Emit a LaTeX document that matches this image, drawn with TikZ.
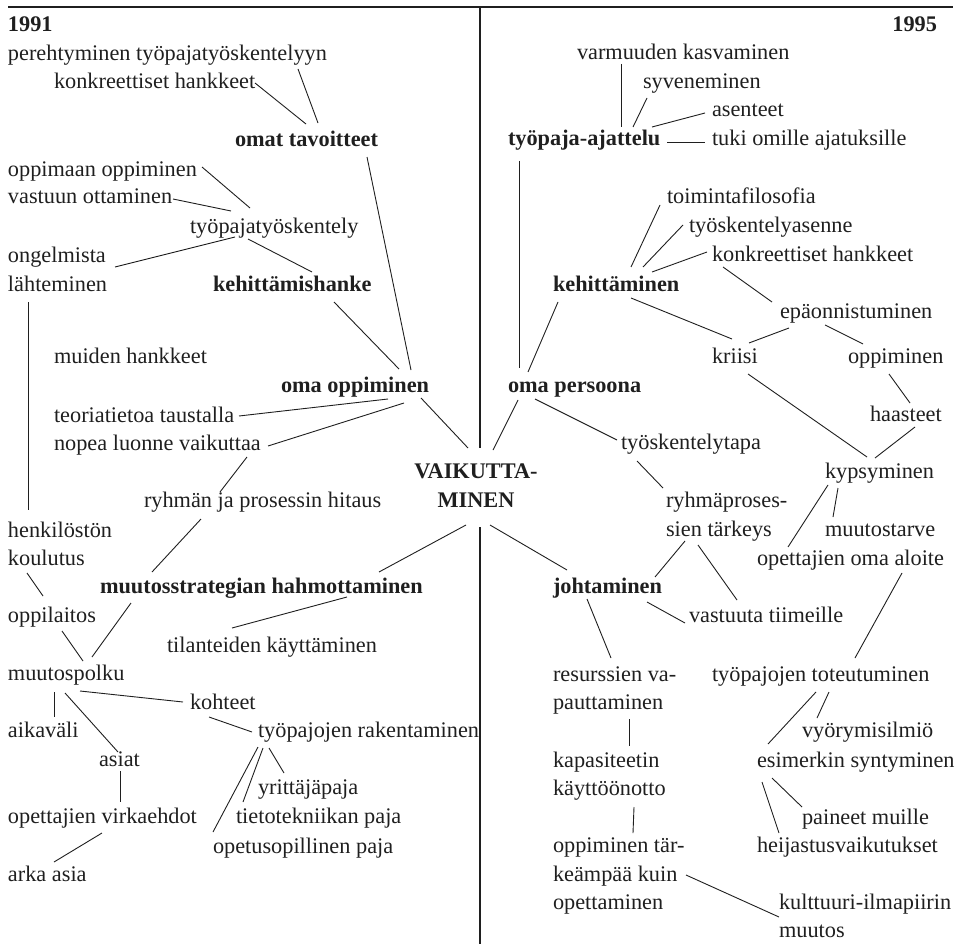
\documentclass[tikz,border=0pt]{standalone}
\usepackage{fontspec}
\setmainfont{Liberation Serif}
\definecolor{ink}{gray}{0.12}
\newcommand\labelsize{\fontsize{22.3}{28}\selectfont}
\tikzset{
  lbl/.style={inner sep=0pt, outer sep=0pt, anchor=base west, text=ink, font=\labelsize},
  key/.style={lbl, font=\labelsize\bfseries},
  conn/.style={draw=ink, line width=0.9pt},
  frame/.style={draw=ink, line width=1.2pt}
}
\begin{document}
\begin{tikzpicture}[x=1pt,y=-1pt]
\useasboundingbox (0,0) rectangle (960,944);

% frame: top rule and the divider between the two years
\coordinate (tl) at (8,7);
\coordinate (tr) at (953,7);
\coordinate (vtop) at (480,7);
\coordinate (vgapa) at (480,448);
\coordinate (vgapb) at (480,527);
\coordinate (vbot) at (480,944);
\draw[frame] (tl) -- (tr);
\draw[frame] (vtop) -- (vgapa);
\draw[frame] (vgapb) -- (vbot);

% centre
\node[key, anchor=base] (vaika) at (476,478) {VAIKUTTA-};
\node[key, anchor=base] (vaikb) at (476,507) {MINEN};

% ---------- 1991 ----------
\node[key] (y91) at (8,32) {1991};
\node[lbl] (pere) at (8,61) {perehtyminen työpajatyöskentelyyn};
\node[lbl] (konkL) at (54,89) {konkreettiset hankkeet};
\node[key] (omat) at (235,147) {omat tavoitteet};
\node[lbl] (oppimaan) at (8,176) {oppimaan oppiminen};
\node[lbl] (vastuun) at (8,204) {vastuun ottaminen};
\node[lbl] (typt) at (190,233) {työpajatyöskentely};
\node[lbl] (ongel) at (8,262) {ongelmista};
\node[lbl] (lahte) at (8,291) {lähteminen};
\node[key] (kehhanke) at (213,291) {kehittämishanke};
\node[lbl] (muiden) at (54,363) {muiden hankkeet};
\node[key] (omaopp) at (281,392) {oma oppiminen};
\node[lbl] (teoria) at (54,422) {teoriatietoa taustalla};
\node[lbl] (nopea) at (54,450) {nopea luonne vaikuttaa};
\node[lbl] (ryhman) at (144,507) {ryhmän ja prosessin hitaus};
\node[lbl] (henk) at (8,537) {henkilöstön};
\node[lbl] (koul) at (8,565) {koulutus};
\node[key] (muutosstr) at (100,593) {muutosstrategian hahmottaminen};
\node[lbl] (oppil) at (8,622) {oppilaitos};
\node[lbl] (tilant) at (167,652) {tilanteiden käyttäminen};
\node[lbl] (mpolku) at (8,680) {muutospolku};
\node[lbl] (kohteet) at (190,709) {kohteet};
\node[lbl] (aikav) at (8,737) {aikaväli};
\node[lbl] (typrak) at (258,737) {työpajojen rakentaminen};
\node[lbl] (asiat) at (99,766) {asiat};
\node[lbl] (yritt) at (258,794) {yrittäjäpaja};
\node[lbl] (opvirka) at (8,823) {opettajien virkaehdot};
\node[lbl] (tietot) at (236,823) {tietotekniikan paja};
\node[lbl] (opetusop) at (213,853) {opetusopillinen paja};
\node[lbl] (arka) at (8,881) {arka asia};

% ---------- 1995 ----------
\node[key, anchor=base east] (y95) at (937,32) {1995};
\node[lbl] (varm) at (577,60) {varmuuden kasvaminen};
\node[lbl] (syven) at (643,89) {syveneminen};
\node[lbl] (asent) at (712,117) {asenteet};
\node[key] (typaja) at (508,146) {työpaja-ajattelu};
\node[lbl] (tuki) at (712,146) {tuki omille ajatuksille};
\node[lbl] (toimin) at (667,203) {toimintafilosofia};
\node[lbl] (tyosk) at (689,232) {työskentelyasenne};
\node[lbl] (konkR) at (712,261) {konkreettiset hankkeet};
\node[key] (kehit) at (553,291) {kehittäminen};
\node[lbl] (epaon) at (780,318) {epäonnistuminen};
\node[lbl] (kriisi) at (712,363) {kriisi};
\node[lbl] (oppR) at (848,363) {oppiminen};
\node[key] (omapers) at (508,392) {oma persoona};
\node[lbl] (haast) at (870,421) {haasteet};
\node[lbl] (tyotapa) at (621,449) {työskentelytapa};
\node[lbl] (kyps) at (825,478) {kypsyminen};
\node[lbl] (ryhmaa) at (666,507) {ryhmäproses-};
\node[lbl] (ryhmab) at (666,536) {sien tärkeys};
\node[lbl] (muutost) at (825,536) {muutostarve};
\node[lbl] (opaloite) at (757,565) {opettajien oma aloite};
\node[key] (johtam) at (553,593) {johtaminen};
\node[lbl] (vastuuta) at (689,622) {vastuuta tiimeille};
\node[lbl] (resursa) at (553,681) {resurssien va-};
\node[lbl] (resursb) at (553,709) {pauttaminen};
\node[lbl] (totout) at (712,681) {työpajojen toteutuminen};
\node[lbl] (vyory) at (802,737) {vyörymisilmiö};
\node[lbl] (kapasa) at (553,767) {kapasiteetin};
\node[lbl] (kapasb) at (553,795) {käyttöönotto};
\node[lbl] (esim) at (757,767) {esimerkin syntyminen};
\node[lbl] (paineet) at (802,824) {paineet muille};
\node[lbl] (oppa) at (553,852) {oppiminen tär-};
\node[lbl] (oppb) at (553,881) {keämpää kuin};
\node[lbl] (oppc) at (553,909) {opettaminen};
\node[lbl] (heij) at (757,852) {heijastusvaikutukset};
\node[lbl] (kulta) at (779,909) {kulttuuri-ilmapiirin};
\node[lbl] (kultb) at (779,937) {muutos};

% ---------- connectors, 1991 ----------
\draw[conn] ([shift={(290,8)}]pere.base west) -- ([shift={(83,-24)}]omat.base west);
\draw[conn] ([shift={(201,-6)}]konkL.base west) -- ([shift={(71,-23)}]omat.base west);
\draw[conn] ([shift={(132,10)}]omat.base west) -- ([shift={(130,-22)}]omaopp.base west);
\draw[conn] ([shift={(194,-9)}]oppimaan.base west) -- ([shift={(60,-25)}]typt.base west);
\draw[conn] ([shift={(165,-5)}]vastuun.base west) -- ([shift={(41,-22)}]typt.base west);
\draw[conn] ([shift={(45,4)}]typt.base west) -- ([shift={(107,5)}]ongel.base west);
\draw[conn] ([shift={(58,6)}]typt.base west) -- ([shift={(99,-19)}]kehhanke.base west);
\draw[conn] ([shift={(121,11)}]kehhanke.base west) -- ([shift={(118,-23)}]omaopp.base west);
\draw[conn] ([shift={(20,11)}]lahte.base west) -- ([shift={(20,-27)}]henk.base west);
\draw[conn] ([shift={(140,6)}]omaopp.base west) -- ([shift={(-8,-30)}]vaika.base);
\draw[conn] ([shift={(107,7)}]omaopp.base west) -- ([shift={(185,-6)}]teoria.base west);
\draw[conn] ([shift={(123,11)}]omaopp.base west) -- ([shift={(214,-4)}]nopea.base west);
\draw[conn] ([shift={(193,7)}]nopea.base west) -- ([shift={(76,-15)}]ryhman.base west);
\draw[conn] ([shift={(57,12)}]ryhman.base west) -- ([shift={(52,-21)}]muutosstr.base west);
\draw[conn] ([shift={(-10,18)}]vaikb.base) -- ([shift={(279,-21)}]muutosstr.base west);
\draw[conn] ([shift={(247,4)}]muutosstr.base west) -- ([shift={(65,-24)}]tilant.base west);
\draw[conn] ([shift={(31,10)}]muutosstr.base west) -- ([shift={(84,-23)}]mpolku.base west);
\draw[conn] ([shift={(19,8)}]koul.base west) -- ([shift={(35,-26)}]oppil.base west);
\draw[conn] ([shift={(54,9)}]oppil.base west) -- ([shift={(75,-19)}]mpolku.base west);
\draw[conn] ([shift={(46,12)}]mpolku.base west) -- ([shift={(46,-20)}]aikav.base west);
\draw[conn] ([shift={(57,13)}]mpolku.base west) -- ([shift={(19,-14)}]asiat.base west);
\draw[conn] ([shift={(72,11)}]mpolku.base west) -- ([shift={(-7,-7)}]kohteet.base west);
\draw[conn] ([shift={(19,8)}]kohteet.base west) -- ([shift={(-6,-5)}]typrak.base west);
\draw[conn] ([shift={(21,5)}]asiat.base west) -- ([shift={(112,-21)}]opvirka.base west);
\draw[conn] ([shift={(94,10)}]opvirka.base west) -- ([shift={(46,-19)}]arka.base west);
\draw[conn] ([shift={(11,11)}]typrak.base west) -- ([shift={(26,-21)}]yritt.base west);
\draw[conn] ([shift={(5,11)}]typrak.base west) -- ([shift={(7,-21)}]tietot.base west);
\draw[conn] ([shift={(0,10)}]typrak.base west) -- ([shift={(0,-21)}]opetusop.base west);

% ---------- connectors, 1995 ----------
\draw[conn] ([shift={(44,4)}]varm.base west) -- ([shift={(113,-19)}]typaja.base west);
\draw[conn] ([shift={(4,9)}]syven.base west) -- ([shift={(125,-19)}]typaja.base west);
\draw[conn] ([shift={(-7,-4)}]asent.base west) -- ([shift={(144,-19)}]typaja.base west);
\draw[conn] ([shift={(159,-4)}]typaja.base west) -- ([shift={(-7,-4)}]tuki.base west);
\draw[conn] ([shift={(11,15)}]typaja.base west) -- ([shift={(11,-24)}]omapers.base west);
\draw[conn] ([shift={(78,-24)}]kehit.base west) -- ([shift={(-7,2)}]toimin.base west);
\draw[conn] ([shift={(90,-24)}]kehit.base west) -- ([shift={(-6,-7)}]tyosk.base west);
\draw[conn] ([shift={(99,-19)}]kehit.base west) -- ([shift={(-5,-9)}]konkR.base west);
\draw[conn] ([shift={(11,6)}]konkR.base west) -- ([shift={(-8,-16)}]epaon.base west);
\draw[conn] ([shift={(5,11)}]kehit.base west) -- ([shift={(20,-20)}]omapers.base west);
\draw[conn] ([shift={(78,7)}]kehit.base west) -- ([shift={(20,-24)}]kriisi.base west);
\draw[conn] ([shift={(9,10)}]epaon.base west) -- ([shift={(37,-20)}]kriisi.base west);
\draw[conn] ([shift={(45,7)}]epaon.base west) -- ([shift={(15,-19)}]oppR.base west);
\draw[conn] ([shift={(41,11)}]oppR.base west) -- ([shift={(40,-18)}]haast.base west);
\draw[conn] ([shift={(45,6)}]haast.base west) -- ([shift={(50,-20)}]kyps.base west);
\draw[conn] ([shift={(36,11)}]kriisi.base west) -- ([shift={(42,-21)}]kyps.base west);
\draw[conn] ([shift={(10,8)}]omapers.base west) -- ([shift={(17,-28)}]vaika.base);
\draw[conn] ([shift={(27,7)}]omapers.base west) -- ([shift={(-4,-9)}]tyotapa.base west);
\draw[conn] ([shift={(16,12)}]tyotapa.base west) -- ([shift={(-3,-19)}]ryhmaa.base west);
\draw[conn] ([shift={(3,7)}]kyps.base west) -- ([shift={(31,-18)}]opaloite.base west);
\draw[conn] ([shift={(13,10)}]kyps.base west) -- ([shift={(8,-19)}]muutost.base west);
\draw[conn] ([shift={(14,18)}]vaikb.base) -- ([shift={(14,-23)}]johtam.base west);
\draw[conn] ([shift={(19,5)}]ryhmab.base west) -- ([shift={(102,-16)}]johtam.base west);
\draw[conn] ([shift={(32,9)}]ryhmab.base west) -- ([shift={(48,-22)}]vastuuta.base west);
\draw[conn] ([shift={(145,8)}]opaloite.base west) -- ([shift={(143,-23)}]totout.base west);
\draw[conn] ([shift={(94,9)}]johtam.base west) -- ([shift={(-4,1)}]vastuuta.base west);
\draw[conn] ([shift={(34,6)}]johtam.base west) -- ([shift={(58,-23)}]resursa.base west);
\draw[conn] ([shift={(76,10)}]resursb.base west) -- ([shift={(76,-21)}]kapasa.base west);
\draw[conn] ([shift={(81,12)}]kapasb.base west) -- ([shift={(80,-19)}]oppa.base west);
\draw[conn] ([shift={(133,-6)}]oppb.base west) -- ([shift={(0,8)}]kulta.base west);
\draw[conn] ([shift={(104,11)}]totout.base west) -- ([shift={(11,-23)}]esim.base west);
\draw[conn] ([shift={(117,11)}]totout.base west) -- ([shift={(15,-19)}]vyory.base west);
\draw[conn] ([shift={(15,11)}]esim.base west) -- ([shift={(0,-17)}]paineet.base west);
\draw[conn] ([shift={(5,15)}]esim.base west) -- ([shift={(22,-19)}]heij.base west);
\end{tikzpicture}
\end{document}
